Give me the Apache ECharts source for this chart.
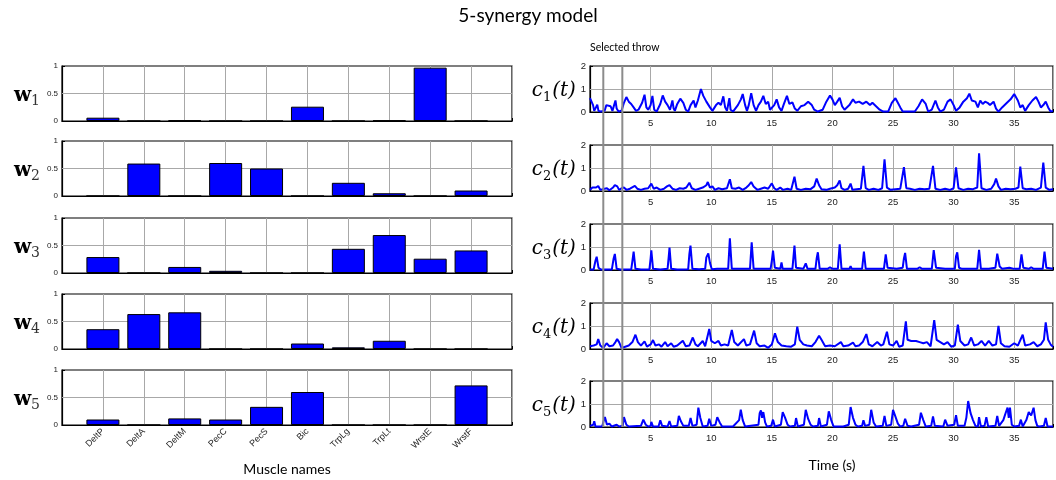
<!DOCTYPE html>
<html><head><meta charset="utf-8">
<script src="https://cdn.jsdelivr.net/npm/echarts@6/dist/echarts.min.js"></script>
<style>html,body{margin:0;padding:0;background:#fff}#c{width:1056px;height:480px}</style>
</head><body><div id="c"></div>
<script>
const muscles = ['DeltP','DeltA','DeltM','PecC','PecS','Bic','TrpLg','TrpLt','WrstE','WrstF'];
const w1 = [0.06,0,0.01,0,0,0.26,0,0.01,0.97,0];
const w2 = [0,0.59,0,0.6,0.5,0,0.24,0.05,0,0.1];
const w3 = [0.29,0,0.11,0.04,0,0,0.44,0.69,0.26,0.41];
const w4 = [0.36,0.635,0.667,0,0,0.1,0.03,0.15,0,0];
const w5 = [0.1,0,0.12,0.1,0.33,0.6,0,0,0,0.72];
const wTicks = [0, 0.5, 1];
const cTicks = [0, 1, 2];
const timeTicks = [5,10,15,20,25,30,35];
const selectedThrow = [1.09, 2.65];
const c1 = [[0,0.6],[0.1,0.65],[0.25,0.3],[0.35,0.05],[0.5,0.02],[0.6,0.32],[0.7,0.05],[0.9,0.02],[1.2,0.05],[1.35,0.3],[1.5,0.38],[1.7,0.25],[1.85,0.05],[2.0,0.1],[2.1,0.5],[2.2,0.15],[2.35,0.02],[2.6,0.05],[2.8,0.4],[3.0,0.65],[3.2,0.45],[3.4,0.35],[3.6,0.2],[3.8,0.05],[4.0,0.1],[4.3,0.4],[4.5,0.75],[4.65,0.2],[4.8,0.1],[5.0,0.3],[5.15,0.7],[5.3,0.1],[5.5,0.02],[5.8,0.35],[6.0,0.72],[6.2,0.45],[6.4,0.3],[6.6,0.1],[6.8,0.5],[6.9,0.15],[7.0,0.05],[7.2,0.35],[7.45,0.58],[7.7,0.4],[7.9,0.1],[8.1,0.02],[8.3,0.3],[8.55,0.5],[8.7,0.2],[8.9,0.5],[9.15,1.0],[9.35,0.7],[9.6,0.45],[9.9,0.2],[10.1,0.05],[10.4,0.3],[10.6,0.4],[10.8,0.3],[11.0,0.68],[11.15,0.2],[11.3,0.05],[11.5,0.6],[11.6,0.1],[11.8,0.02],[12.2,0.3],[12.45,0.55],[12.6,0.78],[12.8,0.3],[12.95,0.05],[13.1,0.3],[13.3,0.82],[13.5,0.3],[13.7,0.05],[13.9,0.3],[14.1,0.45],[14.3,0.7],[14.5,0.35],[14.7,0.45],[14.85,0.1],[15.0,0.02],[15.2,0.3],[15.4,0.55],[15.6,0.2],[15.8,0.05],[16.0,0.35],[16.25,0.7],[16.45,0.35],[16.7,0.42],[16.9,0.15],[17.1,0.05],[17.4,0.25],[17.7,0.3],[18.0,0.45],[18.3,0.3],[18.5,0.1],[18.8,0.02],[19.2,0.1],[19.5,0.45],[19.8,0.72],[20.0,0.55],[20.2,0.3],[20.4,0.45],[20.6,0.62],[20.8,0.25],[21.0,0.1],[21.4,0.3],[21.7,0.55],[21.9,0.4],[22.2,0.45],[22.5,0.35],[22.8,0.45],[23.1,0.3],[23.3,0.4],[23.6,0.25],[23.9,0.1],[24.2,0.02],[24.6,0.02],[24.9,0.4],[25.2,0.6],[25.4,0.4],[25.6,0.2],[25.8,0.02],[26.5,0.02],[26.8,0.02],[27.1,0.25],[27.4,0.55],[27.7,0.35],[27.9,0.02],[28.2,0.1],[28.5,0.5],[28.7,0.2],[28.9,0.02],[29.2,0.1],[29.5,0.45],[29.75,0.55],[30.0,0.3],[30.2,0.05],[30.5,0.2],[30.8,0.45],[31.1,0.6],[31.3,0.8],[31.5,0.5],[31.8,0.45],[32.0,0.2],[32.2,0.5],[32.4,0.35],[32.6,0.45],[32.8,0.4],[33.0,0.3],[33.3,0.45],[33.5,0.15],[33.7,0.02],[34.0,0.2],[34.4,0.4],[34.7,0.55],[35.0,0.78],[35.3,0.5],[35.5,0.2],[35.7,0.3],[35.9,0.05],[36.2,0.3],[36.5,0.5],[36.8,0.65],[37.0,0.45],[37.2,0.2],[37.4,0.3],[37.6,0.45],[37.8,0.2],[38.0,0.02],[38.2,0.05]];
const c2 = [[0,0.05],[0.2,0.15],[0.35,0.08],[0.5,0.15],[0.68,0.22],[0.85,0.05],[1.0,0.02],[1.2,0.1],[1.4,0.12],[1.6,0.03],[1.9,0.15],[2.05,0.26],[2.25,0.2],[2.4,0.05],[2.6,0.12],[2.8,0.15],[3.0,0.05],[3.3,0.1],[3.7,0.22],[3.9,0.1],[4.2,0.05],[4.5,0.1],[4.8,0.12],[5.06,0.32],[5.25,0.1],[5.5,0.15],[5.8,0.05],[6.1,0.1],[6.35,0.2],[6.56,0.26],[6.8,0.1],[7.1,0.05],[7.4,0.12],[7.7,0.1],[7.95,0.15],[8.2,0.36],[8.4,0.12],[8.7,0.05],[9.0,0.1],[9.3,0.15],[9.6,0.25],[9.72,0.39],[9.9,0.15],[10.1,0.2],[10.3,0.05],[10.6,0.12],[10.9,0.08],[11.3,0.12],[11.54,0.51],[11.7,0.12],[12.0,0.1],[12.3,0.15],[12.6,0.05],[12.9,0.15],[13.1,0.25],[13.3,0.39],[13.5,0.2],[13.8,0.05],[14.1,0.1],[14.4,0.15],[14.7,0.1],[15.0,0.33],[15.2,0.12],[15.4,0.05],[15.7,0.15],[15.9,0.05],[16.3,0.1],[16.6,0.05],[16.87,0.62],[17.05,0.1],[17.4,0.05],[17.8,0.1],[18.2,0.08],[18.5,0.2],[18.7,0.54],[18.9,0.25],[19.1,0.08],[19.5,0.05],[19.8,0.1],[20.2,0.15],[20.4,0.25],[20.6,0.46],[20.75,0.12],[21.0,0.05],[21.3,0.1],[21.5,0.32],[21.65,0.05],[22.0,0.08],[22.35,0.1],[22.56,1.09],[22.75,0.12],[23.0,0.05],[23.4,0.1],[23.8,0.05],[24.1,0.12],[24.3,1.38],[24.5,0.15],[24.8,0.05],[25.2,0.08],[25.6,0.1],[25.9,1.04],[26.1,0.12],[26.4,0.1],[26.8,0.05],[27.2,0.1],[27.6,0.08],[28.0,0.1],[28.3,1.09],[28.5,0.1],[28.9,0.05],[29.3,0.1],[29.7,0.05],[30.0,0.12],[30.2,1.03],[30.4,0.12],[30.8,0.05],[31.2,0.1],[31.6,0.08],[31.95,0.15],[32.1,1.64],[32.3,0.12],[32.7,0.05],[33.1,0.1],[33.35,0.3],[33.5,0.54],[33.7,0.2],[33.9,0.05],[34.3,0.1],[34.7,0.08],[35.1,0.1],[35.35,0.15],[35.5,1.06],[35.7,0.12],[36.0,0.08],[36.4,0.1],[36.8,0.05],[37.2,0.15],[37.4,1.23],[37.6,0.15],[37.9,0.05],[38.2,0.08]];
const c3 = [[0,0.02],[0.3,0.02],[0.45,0.4],[0.55,0.58],[0.7,0.1],[0.9,0.02],[1.8,0.02],[1.95,0.5],[2.05,0.7],[2.2,0.05],[2.5,0.02],[3.4,0.02],[3.5,0.4],[3.6,0.8],[3.75,0.05],[4.2,0.02],[4.9,0.02],[5.0,0.5],[5.06,0.86],[5.2,0.05],[5.8,0.02],[6.4,0.05],[6.5,0.6],[6.56,0.97],[6.7,0.05],[7.2,0.02],[8.1,0.03],[8.2,0.7],[8.29,1.06],[8.45,0.05],[9.0,0.03],[9.5,0.05],[9.6,0.55],[9.76,0.72],[9.9,0.3],[10.05,0.03],[10.5,0.05],[11.4,0.05],[11.54,1.38],[11.7,0.05],[12.5,0.05],[13.2,0.05],[13.34,1.2],[13.5,0.05],[14.2,0.05],[14.9,0.05],[15.0,0.4],[15.1,0.84],[15.25,0.1],[15.7,0.05],[15.8,0.33],[15.9,0.05],[16.7,0.05],[16.87,1.06],[17.0,0.1],[17.6,0.05],[17.8,0.29],[17.95,0.05],[18.6,0.05],[18.7,0.5],[18.8,0.77],[18.95,0.05],[19.6,0.05],[19.8,0.12],[20.0,0.05],[20.45,0.05],[20.6,1.12],[20.75,0.05],[21.4,0.05],[21.5,0.17],[21.6,0.05],[22.45,0.05],[22.6,0.8],[22.75,0.05],[23.5,0.05],[24.25,0.05],[24.4,0.68],[24.55,0.1],[24.7,0.05],[25.3,0.05],[25.8,0.1],[25.9,0.5],[26.0,0.74],[26.15,0.05],[27.0,0.05],[27.2,0.12],[27.4,0.05],[28.2,0.05],[28.36,0.86],[28.55,0.1],[29.3,0.05],[30.1,0.05],[30.2,0.6],[30.3,0.77],[30.45,0.1],[30.7,0.05],[31.5,0.05],[31.95,0.05],[32.1,0.88],[32.25,0.05],[32.9,0.05],[33.45,0.1],[33.6,0.71],[33.8,0.15],[34.0,0.05],[34.6,0.1],[35.0,0.05],[35.45,0.05],[35.6,0.68],[35.75,0.1],[36.2,0.05],[36.4,0.12],[36.6,0.05],[37.35,0.05],[37.5,0.8],[37.65,0.1],[38.2,0.05]];
const c4 = [[0,0.12],[0.3,0.15],[0.55,0.2],[0.68,0.43],[0.85,0.15],[1.1,0.05],[1.37,0.25],[1.6,0.12],[1.9,0.15],[2.1,0.3],[2.24,0.43],[2.4,0.3],[2.6,0.05],[2.9,0.1],[3.2,0.15],[3.5,0.3],[3.75,0.62],[3.95,0.3],[4.2,0.15],[4.5,0.33],[4.7,0.1],[5.0,0.2],[5.2,0.39],[5.4,0.15],[5.7,0.2],[5.9,0.1],[6.2,0.3],[6.4,0.12],[6.7,0.25],[6.9,0.1],[7.2,0.15],[7.66,0.36],[7.9,0.12],[8.2,0.15],[8.48,0.5],[8.7,0.2],[8.9,0.12],[9.3,0.35],[9.5,0.12],[9.84,0.87],[10.0,0.35],[10.3,0.25],[10.6,0.35],[10.8,0.15],[11.1,0.2],[11.4,0.15],[11.7,0.83],[11.9,0.3],[12.2,0.15],[12.7,0.43],[12.9,0.15],[13.2,0.2],[13.54,0.8],[13.75,0.25],[14.0,0.12],[14.4,0.15],[14.7,0.05],[15.0,0.2],[15.26,0.68],[15.5,0.3],[15.8,0.15],[16.2,0.12],[16.6,0.1],[16.9,0.2],[17.1,0.97],[17.3,0.4],[17.6,0.2],[17.9,0.15],[18.3,0.12],[18.6,0.3],[18.9,0.58],[19.1,0.4],[19.4,0.12],[19.8,0.15],[20.2,0.12],[20.7,0.3],[20.9,0.12],[21.3,0.15],[21.7,0.28],[21.9,0.12],[22.2,0.15],[22.5,0.3],[22.8,0.65],[23.0,0.2],[23.3,0.12],[23.7,0.3],[24.0,0.15],[24.2,0.2],[24.5,0.75],[24.7,0.2],[25.0,0.15],[25.3,0.35],[25.5,0.1],[25.8,0.15],[26.06,1.2],[26.2,0.4],[26.5,0.35],[26.9,0.35],[27.2,0.3],[27.5,0.25],[27.8,0.3],[28.1,0.12],[28.4,1.26],[28.6,0.4],[28.9,0.3],[29.2,0.2],[29.5,0.3],[29.8,0.1],[30.1,0.15],[30.35,1.06],[30.55,0.35],[30.9,0.15],[31.2,0.2],[31.45,0.5],[31.7,0.15],[32.0,0.2],[32.3,0.35],[32.6,0.15],[32.9,0.35],[33.2,0.15],[33.5,0.2],[33.7,1.01],[33.9,0.25],[34.2,0.12],[34.6,0.1],[35.0,0.25],[35.3,0.15],[35.7,0.62],[35.9,0.15],[36.3,0.2],[36.6,0.3],[36.9,0.12],[37.2,0.2],[37.45,0.4],[37.6,1.16],[37.8,0.4],[38.0,0.2],[38.2,0.1]];
const c5 = [[0,0.05],[0.15,0.08],[0.27,0.1],[0.35,0.25],[0.45,0.02],[1.0,0.02],[1.15,0.3],[1.23,0.43],[1.4,0.1],[1.6,0.15],[1.8,0.02],[2.2,0.1],[2.4,0.02],[2.7,0.05],[2.8,0.43],[3.0,0.1],[3.2,0.02],[4.2,0.05],[4.4,0.32],[4.6,0.1],[4.8,0.02],[5.0,0.05],[5.06,0.22],[5.2,0.02],[5.65,0.02],[5.8,0.29],[5.95,0.05],[6.4,0.02],[6.56,0.26],[6.7,0.02],[7.2,0.05],[7.33,0.48],[7.5,0.25],[7.7,0.05],[8.15,0.05],[8.3,0.39],[8.45,0.05],[8.8,0.1],[8.94,0.84],[9.1,0.4],[9.3,0.02],[9.7,0.05],[9.84,0.36],[10.0,0.05],[10.35,0.1],[10.5,0.43],[10.7,0.2],[10.9,0.02],[11.6,0.02],[11.7,0.08],[11.8,0.02],[12.3,0.3],[12.44,0.75],[12.6,0.3],[12.8,0.02],[13.9,0.1],[14.0,0.6],[14.1,0.72],[14.2,0.4],[14.3,0.65],[14.45,0.2],[14.6,0.02],[14.95,0.05],[15.1,0.32],[15.25,0.02],[15.75,0.1],[15.9,0.65],[16.1,0.4],[16.3,0.1],[16.5,0.02],[16.9,0.05],[17.0,0.39],[17.15,0.02],[17.65,0.1],[17.8,0.75],[18.0,0.35],[18.2,0.1],[18.4,0.02],[18.8,0.05],[18.9,0.39],[19.05,0.02],[19.55,0.1],[19.7,0.68],[19.9,0.3],[20.1,0.02],[20.7,0.02],[20.8,0.1],[20.9,0.02],[21.35,0.1],[21.5,0.87],[21.7,0.4],[21.9,0.1],[22.1,0.02],[22.45,0.05],[22.56,0.29],[22.7,0.05],[23.05,0.1],[23.2,0.75],[23.4,0.2],[23.6,0.02],[24.15,0.05],[24.3,0.48],[24.45,0.05],[24.85,0.1],[25.0,0.75],[25.2,0.45],[25.4,0.15],[25.6,0.02],[25.85,0.05],[26.0,0.36],[26.2,0.05],[26.5,0.02],[27.15,0.1],[27.3,0.62],[27.5,0.3],[27.7,0.02],[28.15,0.05],[28.3,0.46],[28.45,0.05],[29.15,0.02],[29.3,0.32],[29.5,0.05],[30.05,0.1],[30.2,0.51],[30.35,0.05],[30.9,0.05],[31.05,0.4],[31.2,1.13],[31.4,0.6],[31.6,0.3],[31.8,0.05],[32.0,0.02],[32.1,0.43],[32.25,0.02],[32.55,0.05],[32.7,0.43],[32.85,0.02],[33.45,0.05],[33.6,0.48],[33.75,0.05],[34.1,0.3],[34.3,0.62],[34.45,0.84],[34.55,0.4],[34.65,0.84],[34.8,0.1],[35.0,0.02],[35.4,0.05],[35.55,0.32],[35.7,0.02],[36.0,0.3],[36.2,0.65],[36.4,0.5],[36.6,0.84],[36.75,0.3],[36.9,0.05],[37.1,0.02],[37.45,0.05],[37.6,0.39],[37.75,0.02],[38.2,0.02]];

const W = [w1,w2,w3,w4,w5];
const C = [c1,c2,c3,c4,c5];
const leftTops = [66,141,218,294,370];
const rightTops = [66,145,224,303,381];
const TMAX = 38.2;

const grids = [], xAxes = [], yAxes = [], series = [];
const tickFont = {fontFamily:'Liberation Sans, Arial, sans-serif', color:'#222'};
const tick = () => ({show:true, inside:true, length:3, lineStyle:{color:'#000'}});
const frameLine = () => ({show:true, lineStyle:{color:'#000', width:1.2}});
const splitX = () => ({show:true, lineStyle:{color:'#a8a8a8', width:1}});
// grid lines drawn as value-based mark lines (beneath the data)
const gridMarks = (xs, ys, yMin, yMax) => ({silent:true, symbol:'none', z:1, animation:false,
  label:{show:false}, emphasis:{disabled:true},
  lineStyle:{color:'#a8a8a8', width:1, type:'solid'},
  data:[...xs.map(v=>[{coord:[v, yMin]}, {coord:[v, yMax]}]), ...ys.map(v=>({yAxis:v}))]});

W.forEach((w,i)=>{
  grids.push({left:62, top:leftTops[i], width:450, height:55, show:true, borderColor:'#000', borderWidth:1.2});
  xAxes.push({gridIndex:i, type:'value', min:0, max:muscles.length+1, interval:1,
    axisLine:frameLine(), axisTick:tick(), splitLine:splitX(),
    axisLabel:{show:i===4, rotate:45, fontSize:9, margin:5, ...tickFont, formatter:v=>muscles[v-1]||''},
    name: i===4 ? 'Muscle names' : '', nameLocation:'middle', nameGap:37,
    nameTextStyle:{fontSize:14, fontFamily:'Lato, Open Sans, sans-serif', color:'#000'}});
  yAxes.push({gridIndex:i, type:'value', min:wTicks[0], max:wTicks[wTicks.length-1], interval:wTicks[1]-wTicks[0],
    axisLine:frameLine(), axisTick:tick(), splitLine:{show:false},
    axisLabel:{fontSize:8, margin:4, ...tickFont},
    name:'{w|w}{s|'+(i+1)+'}', nameLocation:'middle', nameRotate:0, nameGap:22,
    nameTextStyle:{rich:{
      w:{fontFamily:'DejaVu Serif', fontWeight:'bold', fontSize:20, color:'#000', verticalAlign:'bottom', lineHeight:24},
      s:{fontFamily:'DejaVu Serif', fontSize:14, color:'#333', verticalAlign:'bottom', lineHeight:16, padding:[0,0,-3,0]}}}});
  series.push({type:'bar', xAxisIndex:i, yAxisIndex:i, barWidth:33, silent:true, z:2,
    data:w.map((v,k)=>[k+1,v]),
    itemStyle:{color:'#0000ff', borderColor:'#000', borderWidth:1},
    markLine:gridMarks(muscles.map((m,k)=>k+1), wTicks.slice(1,-1), wTicks[0], wTicks[wTicks.length-1])});
});

C.forEach((c,j)=>{
  const i = 5+j;
  grids.push({left:590, top:rightTops[j], width:466, height:46, show:true, borderColor:'#000', borderWidth:1.2});
  xAxes.push({gridIndex:i, type:'value', min:0, max:TMAX, interval:timeTicks[1]-timeTicks[0],
    axisLine:frameLine(), axisTick:tick(), splitLine:splitX(),
    axisLabel:{fontSize:9.5, margin:6, ...tickFont, formatter:v=>timeTicks.includes(v)?String(v):''}});
  yAxes.push({gridIndex:i, type:'value', min:cTicks[0], max:cTicks[cTicks.length-1], interval:cTicks[1]-cTicks[0],
    axisLine:frameLine(), axisTick:tick(), splitLine:{show:false},
    axisLabel:{fontSize:9.5, margin:4, ...tickFont},
    name:'{c|c}{s|'+(j+1)+'}{p|(t)}', nameLocation:'middle', nameRotate:0, nameGap:14,
    nameTextStyle:{rich:{
      c:{fontFamily:'DejaVu Serif', fontStyle:'italic', fontSize:20, color:'#000', verticalAlign:'bottom', lineHeight:24},
      s:{fontFamily:'DejaVu Serif', fontSize:13, color:'#000', verticalAlign:'bottom', lineHeight:16, padding:[0,1,-3,0]},
      p:{fontFamily:'DejaVu Serif', fontStyle:'italic', fontSize:20, color:'#000', verticalAlign:'bottom', lineHeight:24}}}});
  series.push({type:'line', xAxisIndex:i, yAxisIndex:i, data:c, showSymbol:false, silent:true, z:2,
    lineStyle:{color:'#0000ff', width:2}, clip:true,
    markLine:gridMarks(timeTicks, cTicks.slice(1,-1), cTicks[0], cTicks[cTicks.length-1])});
});

// overlay grid for "Selected throw" markers spanning all time panels
grids.push({left:590, top:66, width:466, height:361});
xAxes.push({gridIndex:10, type:'value', min:0, max:TMAX, show:false});
yAxes.push({gridIndex:10, type:'value', min:0, max:1, show:false});
selectedThrow.forEach(t=>{
  series.push({type:'line', xAxisIndex:10, yAxisIndex:10, showSymbol:false, silent:true, z:5,
    data:[[t,0],[t,1]], lineStyle:{color:'#8c8c8c', width:2}});
});

const chart = echarts.init(document.getElementById('c'), null, {renderer:'canvas'});
chart.setOption({
  animation:false,
  backgroundColor:'#fff',
  title:[
    {text:'5-synergy model', left:'center', top:6, padding:0, textStyle:{fontSize:19, fontWeight:'normal', fontFamily:'Lato, Open Sans, sans-serif', color:'#000'}},
    {text:'Selected throw', left:590, top:42, padding:0, textStyle:{fontSize:10.5, fontWeight:'normal', fontFamily:'Lato, Open Sans, sans-serif', color:'#000'}},
    {text:'Time (s)', left:832, top:458, padding:0, textAlign:'center', textStyle:{fontSize:14, fontWeight:'normal', fontFamily:'Lato, Open Sans, sans-serif', color:'#000'}}
  ],
  grid:grids, xAxis:xAxes, yAxis:yAxes, series:series
});
</script></body></html>
